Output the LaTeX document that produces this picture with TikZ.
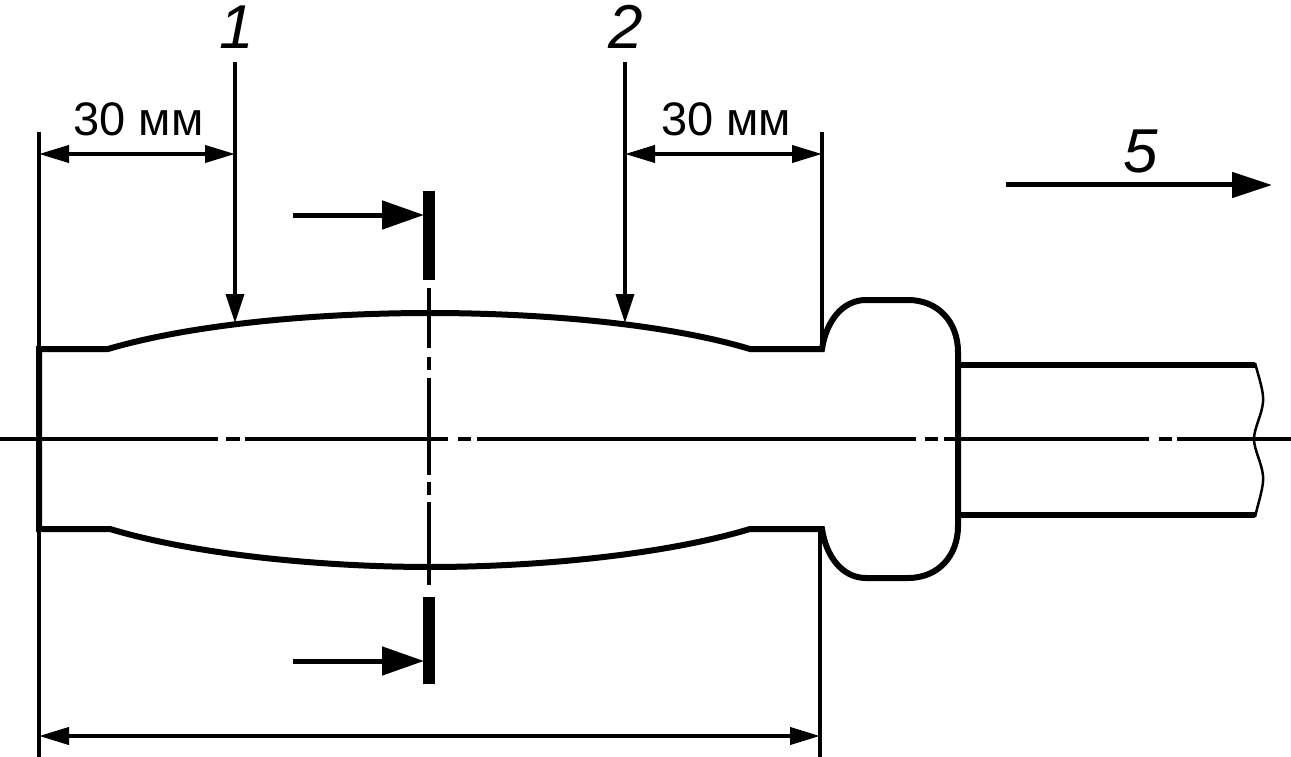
\documentclass[tikz,border=0pt]{standalone}
\usepackage{fontspec}
\setmainfont{Liberation Sans}
\usetikzlibrary{arrows.meta}
\tikzset{
  thickline/.style={line width=6pt,line join=miter},
  thinline/.style={line width=3.5pt},
  axisline/.style={line width=3.5pt},
  breakline/.style={line width=2.5pt},
  dimarrow/.style={line width=4pt,{Triangle[length=30pt,width=17pt]}-{Triangle[length=30pt,width=17pt]}},
  leaderarrow/.style={line width=3.5pt,-{Triangle[length=29pt,width=18pt]}},
  sectionarrow/.style={line width=5pt,-{Triangle[length=42pt,width=28pt]}},
  flowarrow/.style={line width=5pt,-{Triangle[length=40pt,width=25pt]}},
  sectionbar/.style={line width=12pt},
  dimtext/.style={inner sep=0pt,anchor=base,font=\fontsize{47}{47}\selectfont},
  reftext/.style={inner sep=0pt,anchor=base,font=\fontsize{62}{62}\selectfont\itshape}
}
\begin{document}
\begin{tikzpicture}[x=1pt,y=-1pt]
\useasboundingbox (0,0) rectangle (1291,757);
% named points
\coordinate (extLtop) at (39,132);
\coordinate (extLbot) at (39,757);
\coordinate (extRtop) at (822,132);
\coordinate (extRend) at (822,349);
\coordinate (extBtop) at (820,529);
\coordinate (extBbot) at (820,757);
\coordinate (lead1top) at (235,62);
\coordinate (lead1tip) at (235,323);
\coordinate (lead2top) at (625,62);
\coordinate (lead2tip) at (625,323);
\coordinate (dimAl) at (39,154);
\coordinate (dimAr) at (235,154);
\coordinate (dimBl) at (625,154);
\coordinate (dimBr) at (822,154);
\coordinate (dimCl) at (39,736);
\coordinate (dimCr) at (820,736);
\coordinate (secTtail) at (293,215);
\coordinate (secTtip) at (424,215);
\coordinate (secBtail) at (293,661);
\coordinate (secBtip) at (424,661);
\coordinate (flowtail) at (1006,185);
\coordinate (flowtip) at (1272,185);
% axis lines
\draw[axisline] (0,439) -- (218,439) (226,439) -- (240,439) (245,439) -- (448,439)
  (458,439) -- (471,439) (477,439) -- (916,439) (925,439) -- (938,439)
  (944,439) -- (1149,439) (1159,439) -- (1172,439) (1177,439) -- (1291,439);
\draw[axisline] (429,288) -- (429,348) (429,357) -- (429,370) (429,378) -- (429,475)
  (429,482) -- (429,495) (429,502) -- (429,585);
% extension lines
\draw[thinline] (extLtop) -- (extLbot);
\draw[thinline] (extRtop) -- (extRend);
\draw[thinline] (extBtop) -- (extBbot);
% body outline
\draw[thickline] (39,349) -- (108,349)
  .. controls (200,322) and (330,313) .. (430,313)
  .. controls (530,313) and (660,322) .. (750,349)
  -- (822,349)
  .. controls (826,322) and (842,300) .. (866,300)
  -- (908,300)
  .. controls (938,300) and (958,322) .. (958,352)
  -- (958,526)
  .. controls (958,556) and (938,578) .. (908,578)
  -- (866,578)
  .. controls (842,578) and (826,556) .. (822,529)
  -- (750,529)
  .. controls (660,556) and (530,567) .. (430,567)
  .. controls (330,567) and (200,556) .. (110,529)
  -- (39,529) -- cycle;
% shank
\draw[thickline] (958,365) -- (1255,365);
\draw[thickline] (958,515) -- (1255,515);
\draw[breakline] (1255,363) .. controls (1259,378) and (1264,392) .. (1263,402)
  .. controls (1262,415) and (1254,428) .. (1254,439)
  .. controls (1254,450) and (1262,463) .. (1263,476)
  .. controls (1264,486) and (1259,500) .. (1255,517);
% section marks
\draw[sectionbar] (429,191) -- (429,280);
\draw[sectionbar] (429,597) -- (429,684);
\draw[sectionarrow] (secTtail) -- (secTtip);
\draw[sectionarrow] (secBtail) -- (secBtip);
% leaders and dimensions
\draw[leaderarrow] (lead1top) -- (lead1tip);
\draw[leaderarrow] (lead2top) -- (lead2tip);
\draw[dimarrow] (dimAl) -- (dimAr);
\draw[dimarrow] (dimBl) -- (dimBr);
\draw[dimarrow] (dimCl) -- (dimCr);
\draw[flowarrow] (flowtail) -- (flowtip);
% labels
\node[dimtext] (labA) at (138.5,136) {30 мм};
\node[dimtext] (labB) at (726,136) {30 мм};
\node[reftext] (ref1) at (237,49) {1};
\node[reftext] (ref2) at (626,49) {2};
\node[reftext] (ref5) at (1141,173) {5};
\end{tikzpicture}
\end{document}
